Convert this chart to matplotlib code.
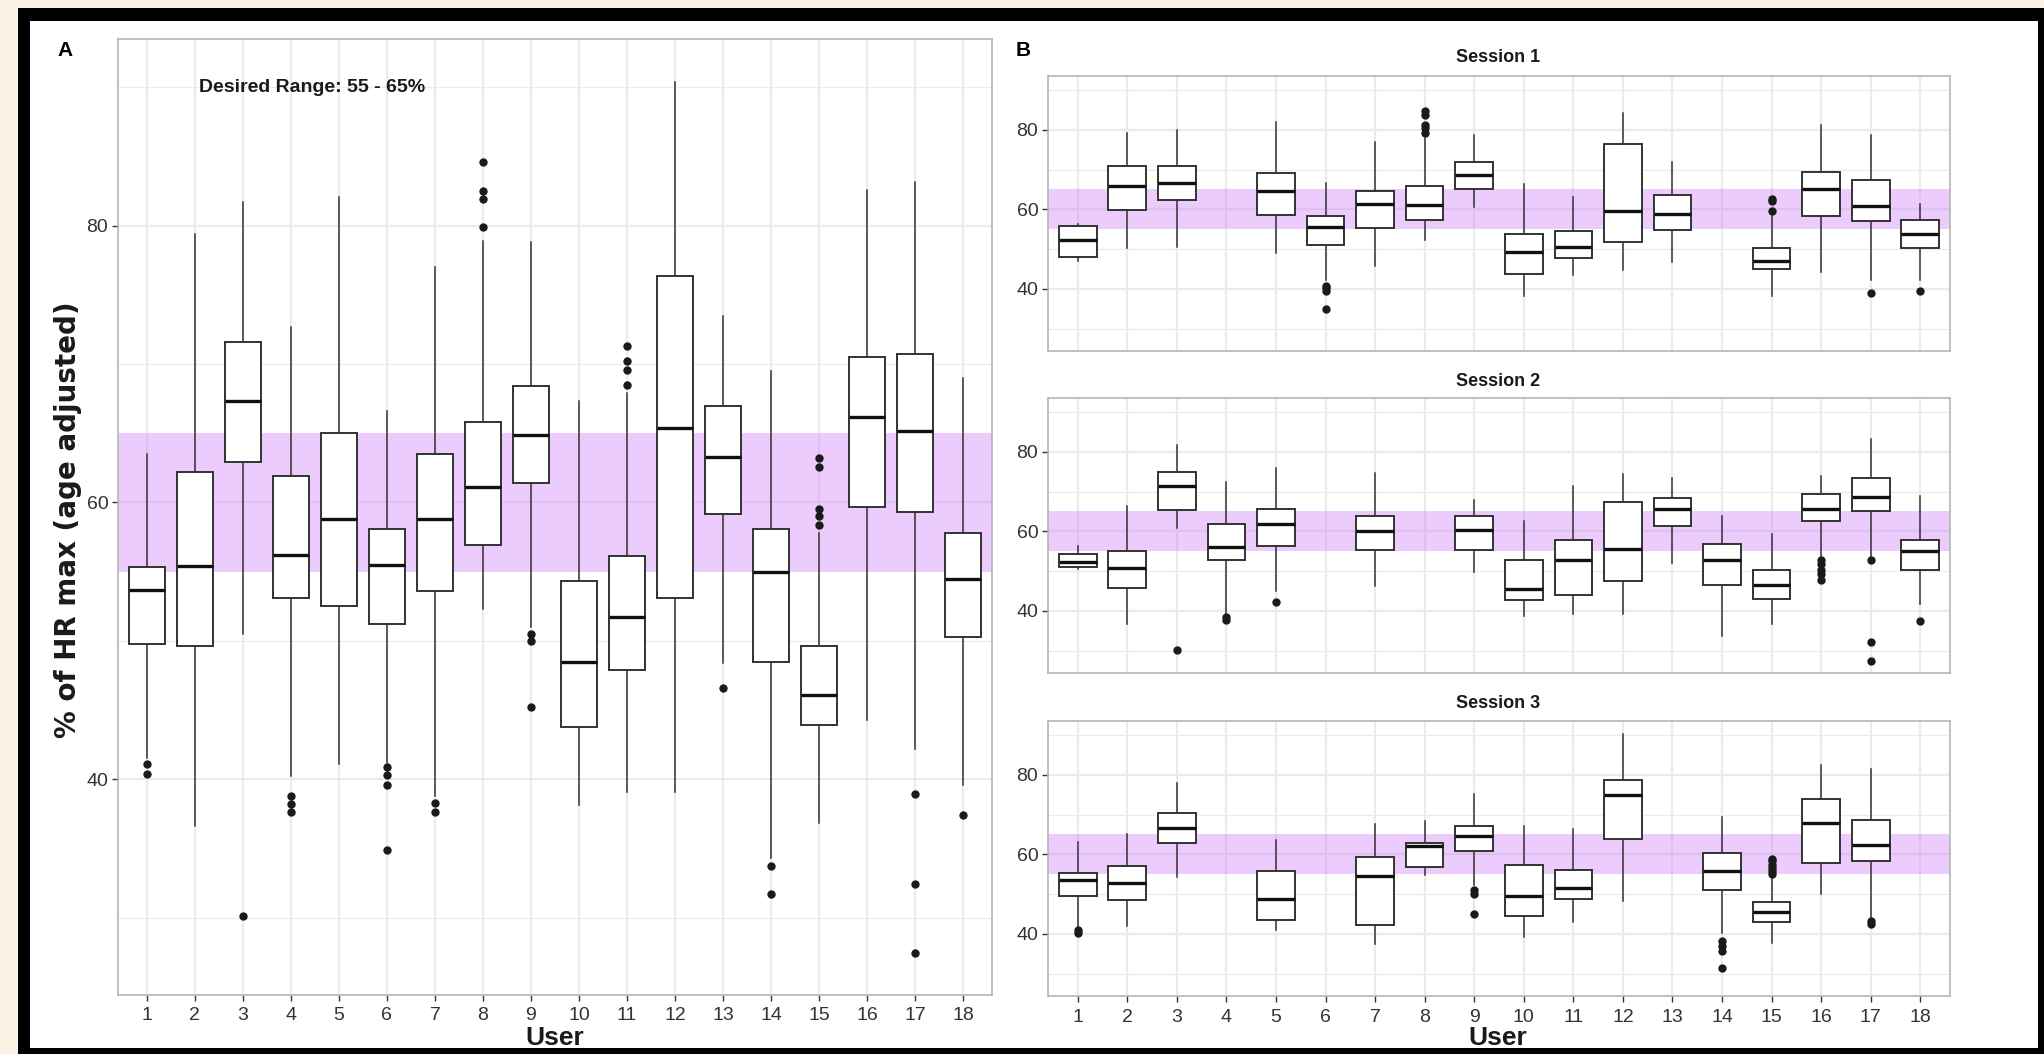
import matplotlib
matplotlib.use("Agg")
import matplotlib.pyplot as plt
from matplotlib.patches import Rectangle

# ---------------- data ----------------
users = list(range(1, 19))
band_low, band_high = 55, 65
desired_text = "Desired Range: 55 - 65%"

# Panel A (all sessions): whisker low, Q1, median, Q3, whisker high, outliers
A_whislo = [41.5, 36.6, 50.5, 40.2, 41.1, 41.2, 38.8, 52.3, 51.0, 38.1, 39.1, 39.1, 48.4, 34.3, 36.8, 44.3, 42.2, 39.6]
A_q1     = [49.8, 49.6, 62.9, 53.1, 52.5, 51.2, 53.6, 56.9, 61.4, 43.8, 47.9, 53.1, 59.2, 48.5, 43.9, 59.7, 59.3, 50.3]
A_med    = [53.7, 55.4, 67.3, 56.2, 58.8, 55.5, 58.8, 61.1, 64.9, 48.5, 51.7, 65.4, 63.3, 55.0, 46.1, 66.2, 65.2, 54.5]
A_q3     = [55.3, 62.2, 71.6, 61.9, 65.0, 58.1, 63.5, 65.8, 68.4, 54.3, 56.1, 76.4, 67.0, 58.1, 49.6, 70.5, 70.7, 57.8]
A_whishi = [63.5, 79.4, 81.7, 72.7, 82.1, 66.6, 77.0, 78.9, 78.8, 67.3, 67.9, 90.4, 73.5, 69.5, 57.8, 82.6, 83.2, 69.0]
A_fliers = [[41.1, 40.4], [], [30.1], [38.8, 38.2, 37.6], [], [40.9, 40.3, 39.6, 34.9],
            [38.3, 37.6], [79.9, 81.9, 82.5, 84.6], [50.5, 50.0, 45.2], [], [68.5, 69.6, 70.2, 71.3],
            [], [46.6], [33.7, 31.7], [58.4, 59.0, 59.5, 62.6, 63.2], [], [38.9, 32.4, 27.4], [37.4]]

# Panel B, per session (None = user without data in that session)
S1_whislo = [47.1, 50.2, 50.6, None, 48.9, 42.3, 45.8, 52.3, 60.6, 38.1, 43.5, 44.8, 46.7, None, 38.1, 44.3, 42.3, 42.3]
S1_q1     = [48.1, 59.8, 62.3, None, 58.5, 51.0, 55.2, 57.3, 65.2, 43.8, 47.7, 51.8, 54.8, None, 44.9, 58.3, 57.0, 50.2]
S1_med    = [52.3, 65.8, 66.7, None, 64.5, 55.6, 61.3, 61.2, 68.5, 49.2, 50.6, 59.6, 58.9, None, 47.1, 65.0, 60.8, 53.9]
S1_q3     = [55.8, 70.8, 70.8, None, 69.2, 58.3, 64.6, 65.8, 71.8, 53.8, 54.5, 76.4, 63.5, None, 50.2, 69.3, 67.3, 57.3]
S1_whishi = [56.4, 79.2, 79.9, None, 82.0, 66.6, 76.8, 78.0, 78.7, 66.3, 63.1, 84.1, 72.0, None, 58.5, 81.3, 78.7, 61.4]
S1_fliers = [[], [], [], [], [], [40.8, 40.2, 39.6, 34.9], [], [79.2, 80.5, 81.3, 83.6, 84.8], [], [], [],
             [], [], [], [59.5, 62.0, 62.7], [], [38.9], [39.6]]

S2_whislo = [50.6, 36.7, 60.8, 39.6, 45.0, None, 46.3, None, 49.8, 38.8, 39.2, 39.2, 52.1, 33.8, 36.7, 53.8, 53.5, 41.7]
S2_q1     = [51.1, 45.8, 65.4, 52.9, 56.4, None, 55.2, None, 55.4, 42.8, 43.9, 47.5, 61.4, 46.5, 42.9, 62.5, 65.0, 50.2]
S2_med    = [52.3, 50.7, 71.5, 56.1, 61.9, None, 60.0, None, 60.4, 45.4, 52.7, 55.6, 65.6, 52.9, 46.5, 65.7, 68.5, 55.0]
S2_q3     = [54.4, 55.0, 74.8, 61.9, 65.6, None, 63.8, None, 63.8, 52.8, 57.9, 67.3, 68.3, 56.7, 50.3, 69.4, 73.3, 57.8]
S2_whishi = [56.3, 66.3, 81.7, 72.5, 75.8, None, 74.6, None, 67.8, 62.7, 71.3, 74.4, 73.5, 63.8, 59.4, 73.9, 83.1, 68.9]
S2_fliers = [[], [], [30.2], [38.4, 37.7], [42.3], [], [], [], [], [], [], [], [], [], [],
             [52.9, 51.7, 50.4, 49.4, 47.8], [52.7, 32.3, 27.5], [37.5]]

S3_whislo = [41.6, 42.0, 54.2, None, 40.9, None, 37.4, 54.8, 52.3, 39.1, 42.9, 48.3, None, 40.3, 37.6, 50.0, 44.1, None]
S3_q1     = [49.6, 48.5, 62.8, None, 43.4, None, 42.2, 56.7, 60.8, 44.5, 48.7, 63.9, None, 51.1, 43.1, 57.8, 58.4, None]
S3_med    = [53.6, 52.8, 66.6, None, 48.7, None, 54.5, 62.2, 64.5, 49.6, 51.5, 75.0, None, 55.9, 45.4, 67.8, 62.4, None]
S3_q3     = [55.3, 57.0, 70.3, None, 55.7, None, 59.4, 62.8, 67.2, 57.4, 56.0, 78.8, None, 60.3, 48.1, 74.0, 68.7, None]
S3_whishi = [63.2, 65.1, 77.9, None, 63.7, None, 67.6, 68.3, 75.2, 67.2, 66.4, 90.3, None, 69.3, 54.2, 82.4, 81.5, None]
S3_fliers = [[40.9, 40.2], [], [], [], [], [], [], [], [51.0, 50.0, 45.0], [], [], [], [],
             [38.2, 37.0, 35.8, 31.5], [55.0, 55.8, 56.6, 57.4, 58.2, 58.8], [], [43.3, 42.6], []]

session_titles = ["Session 1", "Session 2", "Session 3"]

# ---------------- style ----------------
W, H = 2044, 1054
FONT = ["Liberation Sans", "DejaVu Sans"]
plt.rcParams["font.family"] = FONT
CREAM = "#FBF2E3"
BAND = (0.78, 0.40, 0.98)
GRID = "#EBEBEB"
TICK_TXT = "#333333"

fig = plt.figure(figsize=(W / 100, H / 100), dpi=100, facecolor=CREAM)


def rect(l, t, r, b):
    return [l / W, 1 - b / H, (r - l) / W, (b - t) / H]


def fig_rect(l, t, r, b, color, z):
    fig.patches.append(Rectangle((l / W, 1 - b / H), (r - l) / W, (b - t) / H,
                                 transform=fig.transFigure, facecolor=color,
                                 edgecolor="none", zorder=z))


# white page
fig_rect(30, 21, 2038, 1048, "white", -10)


def make_stats(whislo, q1, med, q3, whishi, fliers):
    stats, pos = [], []
    for i, u in enumerate(users):
        if med[i] is None:
            continue
        stats.append(dict(whislo=whislo[i], q1=q1[i], med=med[i], q3=q3[i],
                          whishi=whishi[i], fliers=fliers[i], label=str(u)))
        pos.append(u)
    return stats, pos


def style_axes(ax, show_xlabels=True):
    ax.set_facecolor("white")
    ax.set_xlim(0.4, 18.6)
    ax.set_ylim(24.4, 93.5)
    ax.set_yticks([40, 60, 80])
    ax.set_yticks([30, 50, 70, 90], minor=True)
    ax.set_xticks(users)
    ax.set_xticklabels([str(u) for u in users] if show_xlabels else [])
    ax.grid(True, which="major", color=GRID, lw=1.6, zorder=0)
    ax.grid(True, which="minor", axis="y", color=GRID, lw=0.9, zorder=0)
    ax.set_axisbelow(True)
    for s in ax.spines.values():
        s.set_color("#B5B5B5")
        s.set_linewidth(1.2)
    ax.tick_params(axis="both", which="major", length=4, width=1, color="#333333",
                   labelcolor=TICK_TXT, labelsize=14)
    ax.tick_params(axis="x", pad=5)
    ax.tick_params(axis="y", pad=3)
    ax.tick_params(which="minor", length=0)
    ax.axhspan(band_low, band_high, color=BAND, alpha=0.33, lw=0, zorder=1)


def draw_boxes(ax, stats, pos):
    ax.bxp(stats, positions=pos, widths=0.76, patch_artist=True, manage_ticks=False,
           boxprops=dict(facecolor="white", edgecolor="#333333", linewidth=1.4),
           medianprops=dict(color="#111111", linewidth=2.4),
           whiskerprops=dict(color="#333333", linewidth=1.1),
           capprops=dict(linewidth=0),
           flierprops=dict(marker="o", markerfacecolor="#1a1a1a", markeredgecolor="#1a1a1a",
                           markersize=5),
           zorder=3)


# ---------------- Panel A ----------------
axA = fig.add_axes(rect(118, 39, 992, 995))
style_axes(axA)
stA, posA = make_stats(A_whislo, A_q1, A_med, A_q3, A_whishi, A_fliers)
draw_boxes(axA, stA, posA)
axA.text(4.45, 90, desired_text, ha="center", va="center", fontsize=14,
         fontweight="bold", color="#1a1a1a", zorder=5)

fig.text(65 / W, 1 - 50 / H, "A", ha="center", va="center", fontsize=15, fontweight="bold")
fig.text(68 / W, 1 - 520 / H, "% of HR max (age adjusted)", rotation=90, ha="center",
         va="center", fontsize=20, fontweight="bold", family=["DejaVu Sans"], color="#1a1a1a")
fig.text(555 / W, 1 - 1038 / H, "User", ha="center", va="center", fontsize=19,
         fontweight="bold", color="#1a1a1a")

# ---------------- Panel B ----------------
fig.text(1023 / W, 1 - 50 / H, "B", ha="center", va="center", fontsize=15, fontweight="bold")
sessions = [
    (S1_whislo, S1_q1, S1_med, S1_q3, S1_whishi, S1_fliers, 76, 351, 58),
    (S2_whislo, S2_q1, S2_med, S2_q3, S2_whishi, S2_fliers, 398, 673, 381),
    (S3_whislo, S3_q1, S3_med, S3_q3, S3_whishi, S3_fliers, 721, 996, 703),
]
for k, (wl, q1, md, q3, wh, fl, top, bot, ty) in enumerate(sessions):
    ax = fig.add_axes(rect(1048, top, 1950, bot))
    style_axes(ax, show_xlabels=(k == 2))
    if k < 2:
        ax.tick_params(axis="x", length=0)
    st, ps = make_stats(wl, q1, md, q3, wh, fl)
    draw_boxes(ax, st, ps)
    fig.text(1498 / W, 1 - ty / H, session_titles[k], ha="center", va="center",
             fontsize=13, fontweight="bold", color="#1a1a1a")

fig.text(1498 / W, 1 - 1038 / H, "User", ha="center", va="center", fontsize=19,
         fontweight="bold", color="#1a1a1a")

# ---------------- frame ----------------
fig_rect(18, 8, 2044, 21, "black", 50)      # top
fig_rect(18, 8, 30, 1054, "black", 50)      # left
fig_rect(2038, 8, 2044, 1054, "black", 50)  # right
fig_rect(18, 1048, 2044, 1054, "black", 50) # bottom

fig.savefig("out.png", dpi=100, facecolor=CREAM)
